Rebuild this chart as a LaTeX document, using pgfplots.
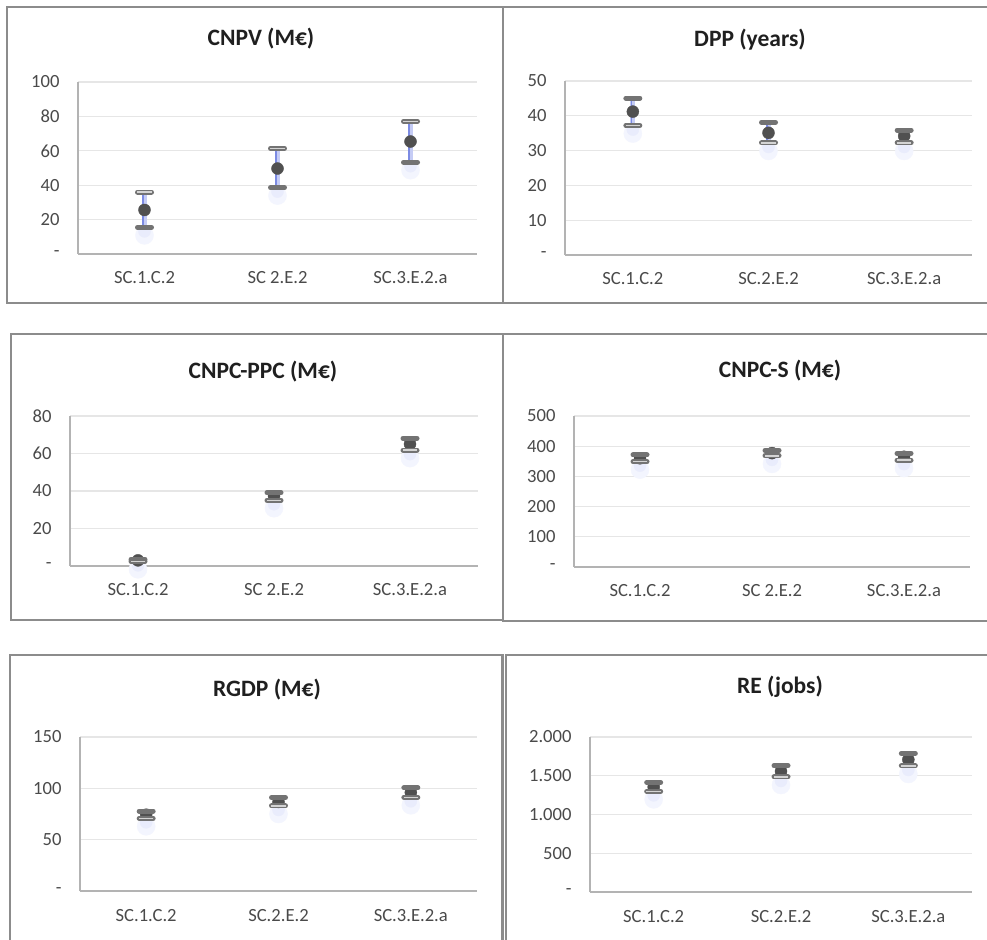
\documentclass[border=0pt]{standalone}
\usepackage{pgfplots}
\pgfplotsset{compat=1.18}
\usepackage{fontspec}
\setmainfont{Carlito}
\definecolor{border}{HTML}{8C8C8C}
\definecolor{axisgray}{HTML}{B3B3B3}
\definecolor{gridgray}{HTML}{E6E6E6}
\definecolor{ticktext}{HTML}{4A4A4A}
\definecolor{titletext}{HTML}{1F1F1F}
\definecolor{bargray}{HTML}{737373}
\definecolor{stripe}{HTML}{D4D4D4}
\definecolor{dotgray}{HTML}{505050}
\definecolor{bluelight}{HTML}{C5CCF5}
\definecolor{bluedark}{HTML}{7C8BE3}
\definecolor{glow}{HTML}{E9ECFC}
\definecolor{glowb}{HTML}{F3F5FE}
\pgfplotsset{
  panel/.style={
    scale only axis, anchor=south west,
    xmin=-0.5, xmax=2.5, ymin=0,
    axis x line*=bottom, axis y line*=left,
    axis line style={draw=axisgray, line width=1.3pt, -},
    xtick={0,1,2}, major tick length=0pt,
    ymajorgrids, grid style={draw=gridgray, line width=1.2pt},
    tick label style={font=\fontsize{18.6}{20}\selectfont, text=ticktext},
    xticklabel style={anchor=base, yshift=-30pt},
    yticklabel style={anchor=east, xshift=-15pt},
    clip=false,
  },
  hiloline/.style={draw=bluelight, line width=5pt, unbounded coords=jump, forget plot},
  hilodark/.style={draw=bluedark, line width=1.4pt, unbounded coords=jump, forget plot},
  glowmark/.style={only marks, mark=*, color=glowb, mark size=9pt, mark options={yshift=-8pt}, forget plot},
  glowmarkb/.style={only marks, mark=*, color=glow, mark size=6pt, mark options={yshift=-4pt}, forget plot},
  meanmark/.style={only marks, mark=*, color=dotgray, mark size=6pt},
  solidbar/.style={only marks, mark=-, color=bargray, mark size=7pt, mark options={line width=5pt, line cap=round}},
  stripebar/.style={only marks, mark=-, color=stripe, mark size=7.2pt, mark options={line width=1.3pt, line cap=butt}},
}
\newcommand{\paneltitle}[3]{\node[font=\fontsize{23.5}{26}\selectfont\bfseries, text=titletext] at (#1pt,#2pt) {#3};}
\begin{document}
\begin{tikzpicture}
\useasboundingbox (0pt,0pt) rectangle (987pt,939pt);
\clip (0pt,0pt) rectangle (987pt,939pt);
\fill[white] (0pt,0pt) rectangle (987pt,939pt);

% ---------- Panel 1: CNPV ----------
\begin{axis}[panel, at={(78pt,685pt)}, width=399pt, height=172pt, ymax=100,
  ytick={0,20,40,60,80,100}, yticklabels={-,20,40,60,80,100},
  xticklabels={SC.1.C.2, SC 2.E.2, SC.3.E.2.a}]
\addplot[glowmark] coordinates {(0,15.5) (1,38.6) (2,53.4)};
\addplot[glowmarkb] coordinates {(0,15.5) (1,38.6) (2,53.4)};
\addplot[hiloline] coordinates {(0,15.5) (0,36) (0,nan) (1,38.6) (1,61.4) (1,nan) (2,53.4) (2,77.1)};
\addplot[hilodark] coordinates {(-0.012,15.5) (-0.012,36) (0,nan) (0.988,38.6) (0.988,61.4) (1,nan) (1.988,53.4) (1.988,77.1)};
\addplot[meanmark] coordinates {(0,25.6) (1,49.7) (2,65.4)};
\addplot[solidbar] coordinates {(0,15.5) (1,38.6) (2,53.4)};
\addplot[solidbar] coordinates {(0,36) (1,61.4) (2,77.1)};
\addplot[stripebar] coordinates {(0,36) (1,61.4) (2,77.1)};
\end{axis}

% ---------- Panel 2: DPP ----------
\begin{axis}[panel, at={(565pt,684pt)}, width=407pt, height=174pt, ymax=50,
  ytick={0,10,20,30,40,50}, yticklabels={-,10,20,30,40,50},
  xticklabels={SC.1.C.2, SC.2.E.2, SC.3.E.2.a}]
\addplot[glowmark] coordinates {(0,37.2) (1,32.2) (2,32.2)};
\addplot[glowmarkb] coordinates {(0,37.2) (1,32.2) (2,32.2)};
\addplot[hiloline] coordinates {(0,37.2) (0,45.1) (0,nan) (1,32.2) (1,38.1) (1,nan) (2,32.2) (2,35.9)};
\addplot[hilodark] coordinates {(-0.012,37.2) (-0.012,45.1) (0,nan) (0.988,32.2) (0.988,38.1) (1,nan) (1.988,32.2) (1.988,35.9)};
\addplot[meanmark] coordinates {(0,41.2) (1,35.1) (2,34.2)};
\addplot[solidbar] coordinates {(0,45.1) (1,38.1) (2,35.9)};
\addplot[solidbar] coordinates {(0,37.2) (1,32.2) (2,32.2)};
\addplot[stripebar] coordinates {(0,37.2) (1,32.2) (2,32.2)};
\end{axis}

% ---------- Panel 3: CNPC-PPC ----------
\begin{axis}[panel, at={(70pt,373pt)}, width=408pt, height=150pt, ymax=80,
  ytick={0,20,40,60,80}, yticklabels={-,20,40,60,80},
  xticklabels={SC.1.C.2, SC 2.E.2, SC.3.E.2.a}]
\addplot[glowmark] coordinates {(0,2.5) (1,35.1) (2,61.8)};
\addplot[glowmarkb] coordinates {(0,2.5) (1,35.1) (2,61.8)};
\addplot[hiloline] coordinates {(0,2.5) (0,3.5) (0,nan) (1,35.1) (1,39.0) (1,nan) (2,61.8) (2,68.1)};
\addplot[hilodark] coordinates {(-0.012,2.5) (-0.012,3.5) (0,nan) (0.988,35.1) (0.988,39.0) (1,nan) (1.988,61.8) (1.988,68.1)};
\addplot[meanmark] coordinates {(0,3.0) (1,37.2) (2,65.0)};
\addplot[solidbar] coordinates {(0,3.5) (1,39.0) (2,68.1)};
\addplot[solidbar] coordinates {(0,2.5) (1,35.1) (2,61.8)};
\addplot[stripebar] coordinates {(0,2.5) (1,35.1) (2,61.8)};
\end{axis}

% ---------- Panel 4: CNPC-S ----------
\begin{axis}[panel, at={(574pt,372pt)}, width=396pt, height=151pt, ymax=500,
  ytick={0,100,200,300,400,500}, yticklabels={-,100,200,300,400,500},
  xticklabels={SC.1.C.2, SC 2.E.2, SC.3.E.2.a}]
\addplot[glowmark] coordinates {(0,349) (1,368) (2,354)};
\addplot[glowmarkb] coordinates {(0,349) (1,368) (2,354)};
\addplot[hiloline] coordinates {(0,349) (0,371) (0,nan) (1,368) (1,386) (1,nan) (2,354) (2,376)};
\addplot[hilodark] coordinates {(-0.012,349) (-0.012,371) (0,nan) (0.988,368) (0.988,386) (1,nan) (1.988,354) (1.988,376)};
\addplot[meanmark] coordinates {(0,360) (1,377) (2,365)};
\addplot[solidbar] coordinates {(0,371) (1,386) (2,376)};
\addplot[solidbar] coordinates {(0,349) (1,368) (2,354)};
\addplot[stripebar] coordinates {(0,349) (1,368) (2,354)};
\end{axis}

% ---------- Panel 5: RGDP ----------
\begin{axis}[panel, at={(80pt,48pt)}, width=397pt, height=154pt, ymax=150,
  ytick={0,50,100,150}, yticklabels={-,50,100,150},
  xticklabels={SC.1.C.2, SC.2.E.2, SC.3.E.2.a}]
\addplot[glowmark] coordinates {(0,70.8) (1,82.8) (2,91.3)};
\addplot[glowmarkb] coordinates {(0,70.8) (1,82.8) (2,91.3)};
\addplot[hiloline] coordinates {(0,70.8) (0,77.9) (0,nan) (1,82.8) (1,91.0) (1,nan) (2,91.3) (2,100.4)};
\addplot[hilodark] coordinates {(-0.012,70.8) (-0.012,77.9) (0,nan) (0.988,82.8) (0.988,91.0) (1,nan) (1.988,91.3) (1.988,100.4)};
\addplot[meanmark] coordinates {(0,74.3) (1,86.7) (2,95.9)};
\addplot[solidbar] coordinates {(0,77.9) (1,91.0) (2,100.4)};
\addplot[solidbar] coordinates {(0,70.8) (1,82.8) (2,91.3)};
\addplot[stripebar] coordinates {(0,70.8) (1,82.8) (2,91.3)};
\end{axis}

% ---------- Panel 6: RE ----------
\begin{axis}[panel, at={(590pt,47pt)}, width=382pt, height=155pt, ymax=2000,
  ytick={0,500,1000,1500,2000}, yticklabels={-,500,1.000,1.500,2.000},
  xticklabels={SC.1.C.2, SC.2.E.2, SC.3.E.2.a}]
\addplot[glowmark] coordinates {(0,1299) (1,1484) (2,1626)};
\addplot[glowmarkb] coordinates {(0,1299) (1,1484) (2,1626)};
\addplot[hiloline] coordinates {(0,1299) (0,1415) (0,nan) (1,1484) (1,1630) (1,nan) (2,1626) (2,1789)};
\addplot[hilodark] coordinates {(-0.012,1299) (-0.012,1415) (0,nan) (0.988,1484) (0.988,1630) (1,nan) (1.988,1626) (1.988,1789)};
\addplot[meanmark] coordinates {(0,1355) (1,1557) (2,1708)};
\addplot[solidbar] coordinates {(0,1415) (1,1630) (2,1789)};
\addplot[solidbar] coordinates {(0,1299) (1,1484) (2,1626)};
\addplot[stripebar] coordinates {(0,1299) (1,1484) (2,1626)};
\end{axis}

% ---------- titles ----------
\paneltitle{261}{900}{CNPV (M€)}
\paneltitle{750}{899}{DPP (years)}
\paneltitle{263}{567}{CNPC-PPC (M€)}
\paneltitle{780}{568}{CNPC-S (M€)}
\paneltitle{267}{249}{RGDP (M€)}
\paneltitle{780}{252}{RE (jobs)}

% ---------- panel borders ----------
\begin{scope}[draw=border, line width=2.5pt]
\draw (7pt,932pt) rectangle (503pt,636pt);
\draw (503pt,932pt) rectangle (1000pt,636pt);
\draw (11pt,605pt) rectangle (503pt,319pt);
\draw (503pt,605pt) rectangle (1000pt,318pt);
\draw (10pt,284pt) rectangle (502.5pt,-20pt);
\draw (506pt,284pt) rectangle (1000pt,-20pt);
\end{scope}
\end{tikzpicture}
\end{document}
